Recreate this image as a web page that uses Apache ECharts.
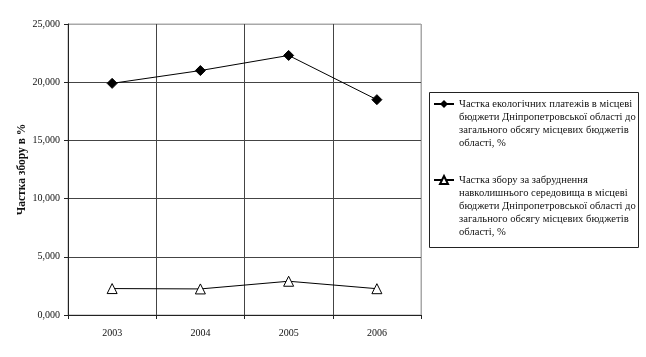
<!DOCTYPE html>
<html>
<head>
<meta charset="utf-8">
<script src="https://cdn.jsdelivr.net/npm/echarts@6/dist/echarts.min.js"></script>
<style>
html,body{margin:0;padding:0;background:#fff;}
#chart{width:646px;height:357px;}
</style>
</head>
<body>
<div id="chart"></div>
<script>
const categories = ['2003', '2004', '2005', '2006'];
const ecoPayments = [19.9, 21.0, 22.3, 18.5];
const pollutionFee = [2.27, 2.24, 2.9, 2.26];
const seriesNames = [
  'Частка екологічних платежів в місцеві бюджети Дніпропетровської області до загального обсягу місцевих бюджетів області, %',
  'Частка збору за забруднення навколишнього середовища в місцеві бюджети Дніпропетровської області до загального обсягу місцевих бюджетів області, %'
];
const legendLines = [
  ['Частка екологічних платежів в місцеві', 'бюджети Дніпропетровської області до', 'загального обсягу місцевих бюджетів', 'області, %'],
  ['Частка збору за забруднення', 'навколишнього середовища в місцеві', 'бюджети Дніпропетровської області до', 'загального обсягу місцевих бюджетів', 'області, %']
];
const yAxisTitle = 'Частка збору в %';

const font = '"Liberation Serif", "Times New Roman", serif';
const LH = 13;
// Pad with leading blank lines so the legend icon lines up with the first text line
function legendText(lines) {
  return '\n'.repeat(lines.length - 1) + lines.join('\n');
}
function legendTop(iconY, lines) {
  const total = (lines.length - 1) * 2 + 1;
  return iconY - total * LH / 2;
}
const iconYs = [104, 180];

function makeLegend(i) {
  return {
    orient: 'vertical',
    left: 433,
    top: legendTop(iconYs[i], legendLines[i]),
    padding: 0,
    itemWidth: 20,
    itemHeight: 10,
    textStyle: {fontFamily: font, fontSize: 10.6, color: '#111', lineHeight: LH},
    data: [seriesNames[i]],
    formatter: () => legendText(legendLines[i])
  };
}

const chart = echarts.init(document.getElementById('chart'), null, {renderer: 'canvas'});
chart.setOption({
  animation: false,
  backgroundColor: '#fff',
  textStyle: {fontFamily: font},
  grid: {left: 68, right: 225, top: 24, bottom: 42, show: true, borderColor: '#a8a8a8', borderWidth: 1},
  graphic: [{
    type: 'rect',
    shape: {x: 429.5, y: 92.5, width: 209, height: 155},
    style: {fill: 'none', stroke: '#222', lineWidth: 1},
    z: 0
  }],
  legend: [makeLegend(0), makeLegend(1)],
  xAxis: {
    type: 'category',
    data: categories,
    boundaryGap: true,
    axisLine: {lineStyle: {color: '#222', width: 1}},
    axisTick: {show: true, length: 4, lineStyle: {color: '#222'}},
    axisLabel: {fontFamily: font, fontSize: 10, color: '#111', margin: 13},
    splitLine: {show: true, lineStyle: {color: ['#444', '#444', '#444', '#444', '#a8a8a8'], width: 1}}
  },
  yAxis: {
    type: 'value',
    min: 0,
    max: 25,
    interval: 5,
    name: yAxisTitle,
    nameLocation: 'middle',
    nameGap: 40,
    nameMoveOverlap: false,
    nameTextStyle: {fontFamily: font, fontSize: 11.5, fontWeight: 'bold', color: '#111'},
    axisLine: {show: true, lineStyle: {color: '#222', width: 1}},
    axisTick: {show: true, length: 4, lineStyle: {color: '#222'}},
    axisLabel: {fontFamily: font, fontSize: 10, color: '#111', margin: 8,
      formatter: v => v.toFixed(3).replace('.', ',')},
    splitLine: {show: true, lineStyle: {color: ['#444', '#444', '#444', '#444', '#444', '#a8a8a8'], width: 1}}
  },
  series: [
    {
      name: seriesNames[0],
      type: 'line',
      data: ecoPayments,
      symbol: 'diamond',
      symbolSize: 10,
      lineStyle: {color: '#000', width: 1},
      itemStyle: {color: '#000', borderColor: '#000'}
    },
    {
      name: seriesNames[1],
      type: 'line',
      data: pollutionFee,
      symbol: 'triangle',
      symbolSize: 10,
      lineStyle: {color: '#000', width: 1},
      itemStyle: {color: '#fff', borderColor: '#000', borderWidth: 1}
    }
  ]
});
</script>
</body>
</html>
